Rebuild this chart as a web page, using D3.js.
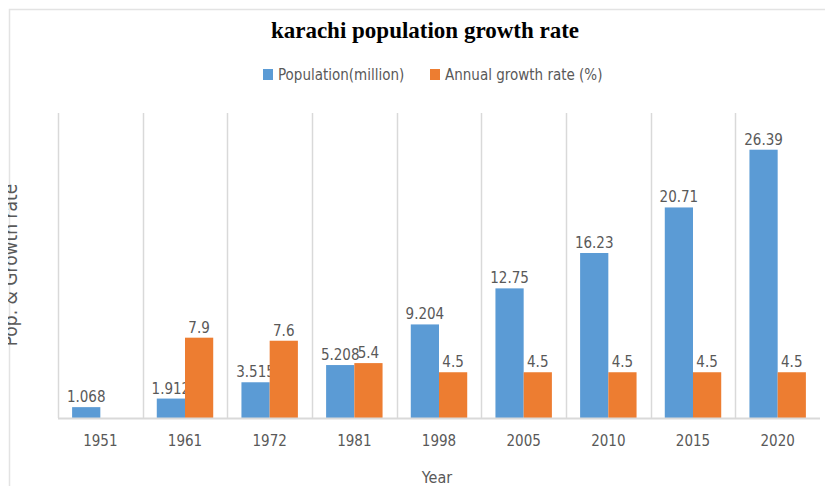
<!DOCTYPE html>
<html>
<head>
<meta charset="utf-8">
<script src="https://cdn.jsdelivr.net/npm/d3@7"></script>
<style>
  body { margin: 0; background: #fff; }
  svg { display: block; }
  .lbl { font-family: "Liberation Sans Narrow", "DejaVu Sans Condensed", "Liberation Sans", sans-serif; fill: #595959; }
</style>
</head>
<body>
<svg class="chart" width="825" height="486"></svg>
<script>
var years = ['1951', '1961', '1972', '1981', '1998', '2005', '2010', '2015', '2020'];
var population = [1.068, 1.912, 3.515, 5.208, 9.204, 12.75, 16.23, 20.71, 26.39];
var growth = [null, 7.9, 7.6, 5.4, 4.5, 4.5, 4.5, 4.5, 4.5];
var seriesNames = ['Population(million)', 'Annual growth rate (%)'];
var colors = ['#5b9bd5', '#ed7d31'];

(function() {
  var svg = d3.select('.chart');
  var left = 58, right = 820, top = 113, bottom = 418;

  // frame of the cropped screenshot
  svg.append('path')
    .attr('d', 'M9.5,486 L9.5,9.5 L825,9.5')
    .attr('fill', 'none')
    .attr('stroke', '#e3e3e3')
    .attr('stroke-width', 1.5);

  var x = d3.scaleBand().domain(years).range([left, right]);
  // two bars fill the middle two thirds of each band
  var xs = d3.scaleBand().domain([0, 1])
    .range([x.bandwidth() / 6, x.bandwidth() * 5 / 6]);
  var y = d3.scaleLinear().domain([0, 30]).range([bottom, top]);

  // vertical category gridlines
  svg.append('g').selectAll('line')
    .data(years)
    .enter().append('line')
      .attr('x1', function(d) { return Math.round(x(d)) + 0.5; })
      .attr('x2', function(d) { return Math.round(x(d)) + 0.5; })
      .attr('y1', top)
      .attr('y2', bottom)
      .attr('stroke', '#d9d9d9')
      .attr('stroke-width', 1.5);

  var rows = years.map(function(yr, i) {
    return { year: yr, vals: [population[i], growth[i]] };
  });

  var groups = svg.append('g').selectAll('g')
    .data(rows)
    .enter().append('g')
      .attr('transform', function(d) { return 'translate(' + x(d.year) + ',0)'; });

  var cells = groups.selectAll('g')
    .data(function(d) {
      return d.vals.map(function(v, k) { return { k: k, v: v }; })
        .filter(function(c) { return c.v != null; });
    })
    .enter().append('g');

  cells.append('rect')
    .attr('x', function(d) { return xs(d.k); })
    .attr('width', xs.bandwidth())
    .attr('y', function(d) { return y(d.v); })
    .attr('height', function(d) { return bottom - y(d.v); })
    .attr('fill', function(d) { return colors[d.k]; });

  cells.append('text')
    .attr('class', 'lbl')
    .attr('x', function(d) { return xs(d.k) + xs.bandwidth() / 2; })
    .attr('y', function(d) { return y(d.v) - 5; })
    .attr('text-anchor', 'middle')
    .attr('font-size', 15)
    .text(function(d) { return d.v; });

  // category axis line
  svg.append('line')
    .attr('x1', left).attr('x2', right)
    .attr('y1', bottom + 0.5).attr('y2', bottom + 0.5)
    .attr('stroke', '#d9d9d9')
    .attr('stroke-width', 2);

  var xAxis = d3.axisBottom(x).tickSize(0).tickPadding(17);
  var gx = svg.append('g')
    .attr('transform', 'translate(0,' + bottom + ')')
    .call(xAxis);
  gx.select('.domain').remove();
  gx.selectAll('text')
    .attr('class', 'lbl')
    .attr('font-size', 15);

  // axis titles
  svg.append('text')
    .attr('class', 'lbl')
    .attr('x', 437)
    .attr('y', 483)
    .attr('text-anchor', 'middle')
    .attr('font-size', 16)
    .text('Year');

  // the y title is cut off by the left edge of the screenshot
  svg.append('clipPath').attr('id', 'yclip')
    .append('rect').attr('x', 8).attr('y', 0).attr('width', 60).attr('height', 486);

  svg.append('g')
    .attr('clip-path', 'url(#yclip)')
    .append('text')
      .attr('class', 'lbl')
      .attr('transform', 'translate(17,265) rotate(-90)')
      .attr('text-anchor', 'middle')
      .attr('font-size', 19)
      .text('Pop. & Growth rate');

  // title
  svg.append('text')
    .attr('x', 425)
    .attr('y', 38)
    .attr('text-anchor', 'middle')
    .attr('font-family', '"Liberation Serif", "DejaVu Serif", serif')
    .attr('font-weight', 'bold')
    .attr('font-size', 23)
    .attr('fill', '#000')
    .text('karachi population growth rate');

  // legend
  var legendX = [263, 430];
  var legend = svg.append('g').selectAll('g')
    .data(seriesNames)
    .enter().append('g')
      .attr('transform', function(d, i) { return 'translate(' + legendX[i] + ',69)'; });
  legend.append('rect')
    .attr('width', 10)
    .attr('height', 11)
    .attr('fill', function(d, i) { return colors[i]; });
  legend.append('text')
    .attr('class', 'lbl')
    .attr('x', 15)
    .attr('y', 11)
    .attr('font-size', 15)
    .text(function(d) { return d; });
})();
</script>
</body>
</html>
